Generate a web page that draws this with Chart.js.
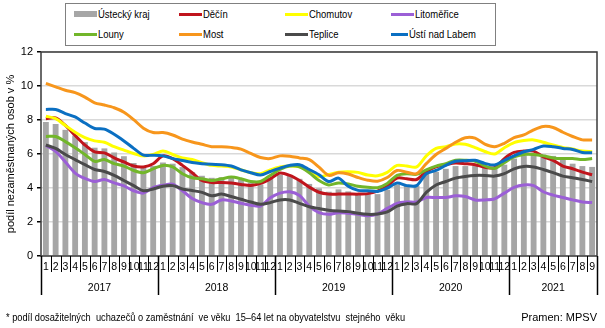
<!DOCTYPE html>
<html lang="cs">
<head>
<meta charset="utf-8">
<title>Podíl nezaměstnaných osob – Ústecký kraj</title>
<script src="https://cdn.jsdelivr.net/npm/chart.js@4/dist/chart.umd.min.js"></script>
<style>
  html, body { margin: 0; padding: 0; background: #fff; }
  #wrap { position: relative; width: 605px; height: 328px; font-family: "Liberation Sans", Arial, sans-serif; color: #000; }
  #chart { position: absolute; left: 0; top: 0; }
  #legend {
    position: absolute; left: 65px; top: 3px; width: 421px; height: 41px;
    border: 1px solid #808080; background: #fff;
    display: grid; grid-template-columns: 105px 106px 106px 96px;
    grid-template-rows: 20px 20px; padding-left: 8px; box-sizing: content-box;
  }
  #legend .item { display: flex; align-items: center; font-size: 11px; white-space: nowrap; }
  #legend .sw { display: inline-block; width: 23px; height: 3px; margin-right: 1px; }
  #legend .sw.bar { height: 6px; }
  #legend .txt { display: inline-block; transform: scaleX(0.86); transform-origin: left center; }
  .note { position: absolute; top: 311px; font-size: 11px; white-space: pre; }
  #footnote { left: 6px; transform: scaleX(0.84); transform-origin: left center; }
  #source { right: 8px; }
</style>
</head>
<body>
<div id="wrap">
  <canvas id="chart" width="605" height="328"></canvas>
  <div id="legend"></div>
  <div class="note" id="footnote">* podíl dosažitelných  uchazečů o zaměstnání  ve věku  15–64 let na obyvatelstvu  stejného  věku</div>
  <div class="note" id="source">Pramen: MPSV</div>
</div>
<script>
  "use strict";

  // měsíce 1/2017 – 9/2021
  const years = ["2017", "2018", "2019", "2020", "2021"];
  const months = [];
  years.forEach(function (y) {
    const last = y === "2021" ? 9 : 12;
    for (let m = 1; m <= last; m++) months.push(String(m));
  });

  // podíl nezaměstnaných osob v %
  const ustecky = [
    7.88, 7.76, 7.42, 7.09, 6.70, 6.37, 6.33, 6.09, 5.87, 5.47, 5.20, 5.30,
    5.50, 5.43, 5.23, 4.93, 4.72, 4.60, 4.63, 4.61, 4.47, 4.32, 4.21, 4.55,
    4.78, 4.74, 4.54, 4.24, 3.98, 3.78, 3.92, 3.80, 3.70, 3.64, 3.64, 3.90,
    4.20, 4.14, 4.14, 4.84, 4.95, 5.13, 5.29, 5.29, 5.29, 5.17, 5.20, 5.37,
    5.73, 5.89, 5.97, 5.97, 5.89, 5.69, 5.43, 5.29, 5.24
  ];
  const decin = [
    8.08, 8.12, 7.68, 7.09, 6.53, 6.13, 6.07, 5.77, 5.53, 5.29, 5.24, 5.43,
    5.89, 5.73, 5.33, 4.90, 4.44, 4.32, 4.33, 4.30, 4.21, 4.15, 4.27, 4.54,
    4.88, 4.74, 4.44, 4.05, 3.75, 3.64, 3.64, 3.65, 3.64, 3.67, 3.82, 4.10,
    4.58, 4.54, 4.50, 4.97, 5.24, 5.37, 5.47, 5.43, 5.37, 5.22, 5.20, 5.73,
    6.09, 6.17, 6.17, 5.83, 5.63, 5.29, 5.13, 4.93, 4.78
  ];
  const chomutov = [
    8.22, 8.08, 7.68, 7.28, 6.96, 6.77, 6.69, 6.43, 6.23, 6.03, 5.89, 5.97,
    6.17, 5.97, 5.77, 5.68, 5.49, 5.33, 5.29, 5.24, 5.07, 4.90, 4.84, 5.07,
    5.24, 5.29, 5.24, 4.97, 4.67, 4.79, 4.93, 4.96, 4.92, 4.76, 4.72, 4.92,
    5.33, 5.29, 5.24, 5.89, 6.33, 6.43, 6.59, 6.57, 6.37, 6.15, 6.00, 6.37,
    6.67, 6.79, 6.83, 6.69, 6.53, 6.39, 6.29, 6.17, 6.13
  ];
  const litomerice = [
    6.50, 6.15, 5.53, 4.88, 4.56, 4.38, 4.50, 4.30, 4.12, 3.84, 3.70, 4.02,
    4.16, 4.22, 3.84, 3.38, 3.14, 3.04, 3.30, 3.24, 3.10, 2.99, 2.94, 3.42,
    3.70, 3.78, 3.56, 2.94, 2.55, 2.45, 2.55, 2.51, 2.45, 2.37, 2.47, 2.80,
    3.10, 3.18, 3.18, 3.44, 3.44, 3.44, 3.54, 3.50, 3.30, 3.30, 3.36, 3.70,
    4.04, 4.18, 4.14, 3.78, 3.58, 3.44, 3.30, 3.18, 3.14
  ];
  const louny = [
    7.03, 7.03, 6.73, 6.37, 5.97, 5.57, 5.67, 5.43, 5.29, 5.03, 4.90, 5.13,
    5.33, 5.24, 4.84, 4.60, 4.54, 4.44, 4.54, 4.64, 4.54, 4.38, 4.38, 4.74,
    5.09, 5.29, 5.24, 4.90, 4.44, 4.18, 4.30, 4.24, 4.10, 4.04, 4.02, 4.27,
    4.74, 4.84, 4.80, 5.07, 5.29, 5.43, 5.63, 5.63, 5.57, 5.30, 5.15, 5.49,
    5.83, 5.97, 5.97, 5.89, 5.77, 5.73, 5.73, 5.67, 5.73
  ];
  const most = [
    10.15, 9.95, 9.75, 9.61, 9.35, 9.01, 8.88, 8.72, 8.46, 8.02, 7.52, 7.26,
    7.26, 7.12, 6.88, 6.71, 6.57, 6.43, 6.43, 6.39, 6.29, 6.03, 5.79, 5.73,
    5.89, 5.87, 5.77, 5.67, 5.23, 4.74, 4.90, 4.82, 4.62, 4.46, 4.40, 4.62,
    5.03, 4.93, 4.84, 5.43, 5.97, 6.33, 6.69, 6.96, 6.93, 6.58, 6.43, 6.63,
    6.96, 7.12, 7.42, 7.62, 7.56, 7.28, 7.03, 6.83, 6.83
  ];
  const teplice = [
    6.53, 6.33, 5.97, 5.67, 5.37, 5.09, 4.97, 4.74, 4.44, 4.14, 3.84, 3.94,
    4.10, 4.14, 3.94, 3.85, 3.74, 3.54, 3.64, 3.50, 3.34, 3.18, 3.04, 3.14,
    3.30, 3.30, 3.10, 2.90, 2.79, 2.69, 2.64, 2.61, 2.51, 2.45, 2.47, 2.59,
    2.94, 3.08, 3.08, 3.74, 4.18, 4.38, 4.58, 4.68, 4.74, 4.74, 4.70, 4.84,
    5.13, 5.27, 5.24, 5.09, 4.90, 4.70, 4.60, 4.50, 4.38
  ];
  const ustiNadLabem = [
    8.62, 8.62, 8.38, 8.18, 7.82, 7.50, 7.46, 7.16, 6.77, 6.33, 5.93, 5.93,
    5.89, 5.73, 5.62, 5.50, 5.43, 5.39, 5.37, 5.29, 5.07, 4.90, 4.76, 4.97,
    5.17, 5.33, 5.37, 5.09, 4.78, 4.38, 4.58, 4.10, 3.86, 3.84, 3.80, 4.00,
    4.29, 4.14, 4.14, 4.84, 5.03, 5.33, 5.57, 5.61, 5.63, 5.45, 5.35, 5.63,
    5.89, 6.13, 6.27, 6.47, 6.43, 6.33, 6.27, 6.09, 6.07
  ];

  const yTicks = [0, 2, 4, 6, 8, 10, 12];

  const lines = [
    { label: "Děčín", data: decin, color: "#c0141c" },
    { label: "Chomutov", data: chomutov, color: "#ffff00" },
    { label: "Litoměřice", data: litomerice, color: "#9b5fd6" },
    { label: "Louny", data: louny, color: "#72b62a" },
    { label: "Most", data: most, color: "#f7961c" },
    { label: "Teplice", data: teplice, color: "#4a4a4a" },
    { label: "Ústí nad Labem", data: ustiNadLabem, color: "#0a6fc2" }
  ];
  const barColor = "#a6a6a6";
  const FONT = "'Liberation Sans', Arial, sans-serif";

  // legenda (v pořadí po řádcích jako v Excelu)
  const legendItems = [{ label: "Ústecký kraj", color: barColor, bar: true }].concat(lines);
  const legendEl = document.getElementById("legend");
  legendItems.forEach(function (it) {
    const d = document.createElement("div");
    d.className = "item";
    d.innerHTML = '<span class="sw' + (it.bar ? " bar" : "") + '" style="background:' + it.color +
      '"></span><span class="txt">' + it.label + "</span>";
    legendEl.appendChild(d);
  });

  // rámeček grafu, oddělovače měsíců/let a popisky let
  const axisDecor = {
    id: "axisDecor",
    afterDraw(chart) {
      const ctx = chart.ctx;
      const area = chart.chartArea;
      const x = chart.scales.x;
      const n = months.length;
      ctx.save();
      ctx.strokeStyle = "#3a3a3a";
      ctx.lineWidth = 1.5;
      ctx.strokeRect(area.left, area.top, area.right - area.left, area.bottom - area.top);

      ctx.strokeStyle = "#000";
      for (let i = 0; i <= n; i++) {
        let px;
        if (i === 0) px = area.left;
        else if (i === n) px = area.right;
        else px = (x.getPixelForValue(i - 1) + x.getPixelForValue(i)) / 2;
        const isYear = i % 12 === 0 || i === n;
        ctx.lineWidth = isYear ? 1.5 : 1;
        ctx.beginPath();
        ctx.moveTo(Math.round(px) + 0.5, area.bottom);
        ctx.lineTo(Math.round(px) + 0.5, area.bottom + (isYear ? 39 : 16));
        ctx.stroke();
      }

      ctx.fillStyle = "#000";
      ctx.font = "10.5px " + FONT;
      ctx.textAlign = "center";
      ctx.textBaseline = "middle";
      years.forEach(function (y, k) {
        const first = k * 12;
        const last = Math.min(first + 11, n - 1);
        const cx = (x.getPixelForValue(first) + x.getPixelForValue(last)) / 2;
        ctx.fillText(y, cx, area.bottom + 32);
      });
      ctx.restore();
    }
  };

  const datasets = [{
    type: "bar",
    label: "Ústecký kraj",
    data: ustecky,
    backgroundColor: barColor,
    barPercentage: 0.6,
    categoryPercentage: 1.0,
    order: 20
  }];
  lines.forEach(function (s, idx) {
    datasets.push({
      type: "line",
      label: s.label,
      data: s.data,
      borderColor: s.color,
      backgroundColor: s.color,
      borderWidth: 3,
      pointRadius: 0,
      tension: 0.3,
      fill: false,
      order: lines.length - idx
    });
  });

  new Chart(document.getElementById("chart"), {
    data: { labels: months, datasets: datasets },
    options: {
      responsive: false,
      animation: false,
      layout: { padding: { top: 52, right: 8, left: 0, bottom: 0 } },
      plugins: {
        legend: { display: false },
        tooltip: { enabled: false }
      },
      scales: {
        x: {
          type: "category",
          offset: true,
          grid: { display: false, drawTicks: false },
          border: { display: false },
          ticks: {
            autoSkip: false,
            maxRotation: 0,
            minRotation: 0,
            padding: 5,
            color: "#000",
            font: { family: FONT, size: 10.5 }
          },
          afterFit(scale) { scale.height = 72; }
        },
        y: {
          min: 0,
          max: 12,
          afterBuildTicks(scale) { scale.ticks = yTicks.map(function (v) { return { value: v }; }); },
          grid: { color: "#d9d9d9", lineWidth: 1.5, tickColor: "#000", tickLength: 4 },
          border: { display: false },
          ticks: { padding: 4, color: "#000", font: { family: FONT, size: 11 } },
          title: {
            display: true,
            text: "podíl nezaměstnaných osob v %",
            color: "#000",
            font: { family: FONT, size: 11 },
            padding: { top: 4, bottom: 0 }
          },
          afterFit(scale) { scale.width = 41; }
        }
      }
    },
    plugins: [axisDecor]
  });
</script>
</body>
</html>
